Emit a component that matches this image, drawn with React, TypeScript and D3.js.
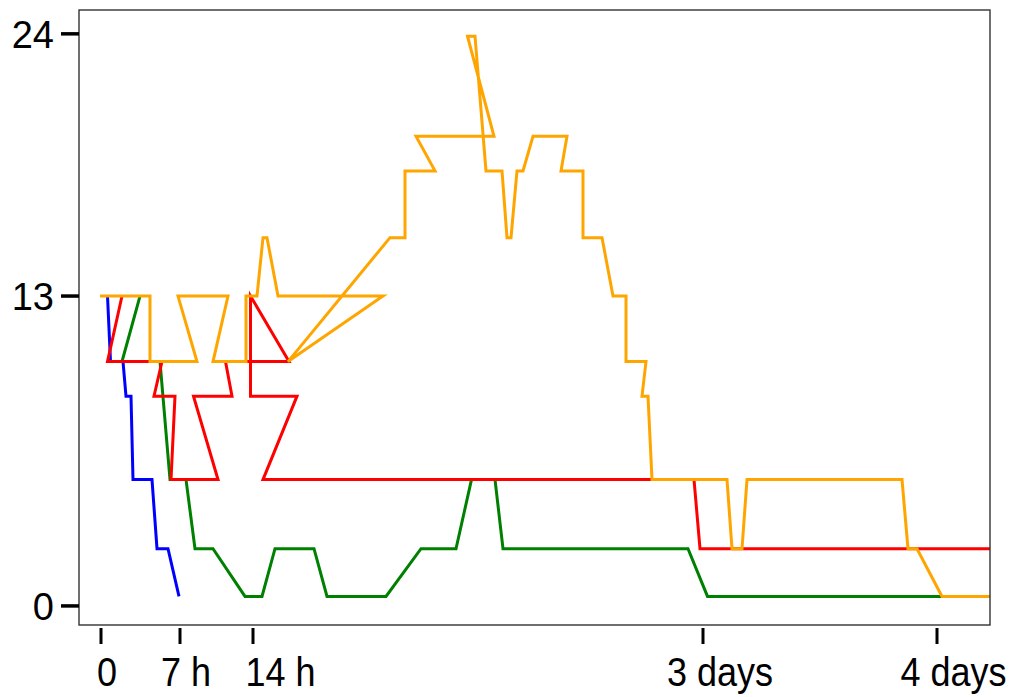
import React from 'react';
import * as d3 from 'd3';

// Time runs along x (plot units), level along y.
const blueTime = [0.65, 0.95, 2.2, 2.5, 3.0, 3.2, 5.1, 5.6, 6.7, 7.8];
const blueLevel = [13, 10.25, 10.25, 8.8, 8.8, 5.3, 5.3, 2.4, 2.4, 0.4];

const greenTime = [3.9, 2.1, 5.9, 6.9, 8.5, 9.4, 11.2, 14.4, 16.1, 17.4, 21.3, 22.6, 28.5, 32.0, 35.5, 37.05, 39.4, 40.2, 57.9, 58.7, 60.65, 88.9];
const greenLevel = [13, 10.25, 10.25, 5.3, 5.3, 2.4, 2.4, 0.4, 0.4, 2.4, 2.4, 0.4, 0.4, 2.4, 2.4, 5.3, 5.3, 2.4, 2.4, 2.4, 0.4, 0.4];

const redTime = [2.1, 0.65, 6.1, 5.3, 7.4, 7.0, 11.7, 9.25, 13.1, 12.45, 18.8, 14.95, 14.95, 19.6, 16.2, 59.3, 59.9, 88.9];
const redLevel = [13, 10.25, 10.25, 8.8, 8.8, 5.3, 5.3, 8.8, 8.8, 10.25, 10.25, 13, 8.8, 8.8, 5.3, 5.3, 2.4, 2.4];

const orangeTime = [-0.1, 4.9, 4.9, 9.6, 7.7, 12.7, 11.2, 14.5, 14.5, 15.6, 16.2, 16.6, 17.7, 28.2, 18.7, 28.9, 30.4, 30.4, 33.4, 31.5, 39.3, 36.65, 37.4, 38.5, 40.1, 40.6, 41.0, 41.6, 42.2, 43.2, 46.6, 46.0, 48.2, 48.2, 50.1, 51.2, 52.5, 52.5, 54.5, 54.1, 54.7, 55.1, 62.6, 63.1, 64.1, 64.6, 80.1, 80.7, 81.6, 84.1, 88.9];
const orangeLevel = [13, 13, 10.25, 10.25, 13, 13, 10.25, 10.25, 13, 13, 15.45, 15.45, 13, 13, 10.25, 15.45, 15.45, 18.25, 18.25, 19.7, 19.7, 23.9, 23.9, 18.25, 18.25, 15.45, 15.45, 18.25, 18.25, 19.7, 19.7, 18.25, 18.25, 15.45, 15.45, 13, 13, 10.25, 10.25, 8.8, 8.8, 5.3, 5.3, 2.4, 2.4, 5.3, 5.3, 2.4, 2.4, 0.4, 0.4];

const yTicks = [0, 13, 24];
const xTickAt = [0, 7.9, 15.2, 60.2, 83.6];
const xTickLabels = ['0', '7 h', '14 h', '3 days', '4 days'];
const xLabelAt = [0.6, 8.5, 17.95, 61.9, 85.25];

const series = [
  { name: 'blue', color: '#0000ff', time: blueTime, level: blueLevel },
  { name: 'green', color: '#008000', time: greenTime, level: greenLevel },
  { name: 'red', color: '#ff0000', time: redTime, level: redLevel },
  { name: 'orange', color: '#ffa500', time: orangeTime, level: orangeLevel },
];

export default function App() {
  const width = 1016;
  const height = 697;
  const left = 79, right = 990, top = 10, bottom = 625;

  const x = d3.scaleLinear().domain([-2.2, 88.9]).range([left, right]);
  const y = d3.scaleLinear().domain([-0.8, 25]).range([bottom, top]);
  const line = d3
    .line<[number, number]>()
    .x((d) => x(d[0]))
    .y((d) => y(d[1]));

  return (
    <svg
      width={width}
      height={height}
      style={{ position: 'absolute', left: 0, top: 0, background: '#fff' }}
    >
      <rect x={0} y={0} width={width} height={height} fill="#fff" />
      {series.map((s) => (
        <path
          key={s.name}
          d={line(d3.zip(s.time, s.level) as [number, number][]) || ''}
          fill="none"
          stroke={s.color}
          strokeWidth={3}
        />
      ))}
      <rect
        x={left}
        y={top}
        width={right - left}
        height={bottom - top}
        fill="none"
        stroke="#333"
        strokeWidth={1.4}
      />
      {yTicks.map((t) => (
        <g key={'y' + t}>
          <line x1={61} x2={left} y1={y(t)} y2={y(t)} stroke="#000" strokeWidth={3.5} />
          <text
            x={54}
            y={y(t)}
            dy="0.36em"
            textAnchor="end"
            fontFamily="'Liberation Sans', Arial, sans-serif"
            fontSize={38}
            fill="#000"
          >
            {t}
          </text>
        </g>
      ))}
      {xTickAt.map((t, i) => (
        <g key={'x' + i}>
          <line x1={x(t)} x2={x(t)} y1={628} y2={644} stroke="#000" strokeWidth={3} />
          <g transform={`translate(${x(xLabelAt[i])},686) scale(0.9,1)`}>
            <text
              textAnchor="middle"
              fontFamily="'Liberation Sans', Arial, sans-serif"
              fontSize={40}
              fill="#000"
            >
              {xTickLabels[i]}
            </text>
          </g>
        </g>
      ))}
    </svg>
  );
}
